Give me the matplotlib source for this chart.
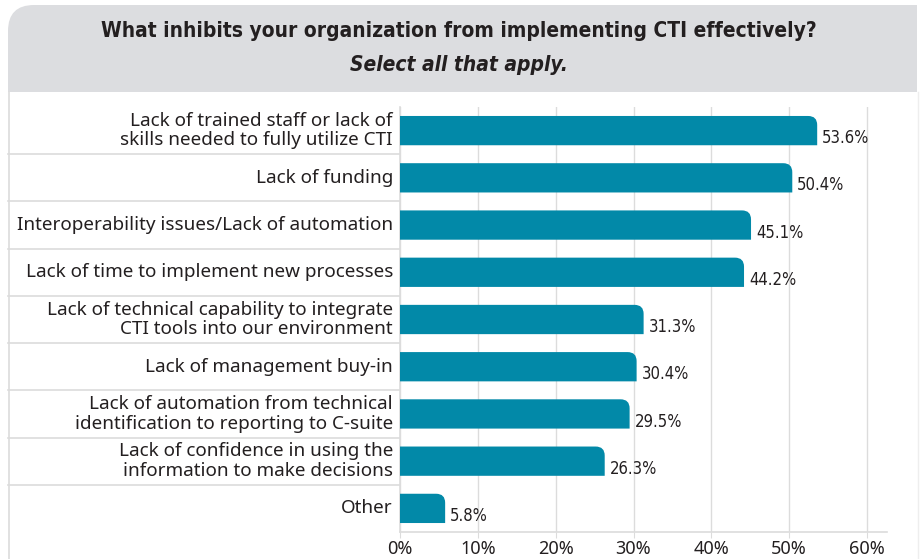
import matplotlib
matplotlib.use("Agg")
import matplotlib.pyplot as plt
from matplotlib.patches import PathPatch
from matplotlib.path import Path
from matplotlib.lines import Line2D
from matplotlib.transforms import Affine2D

# ---------------------------------------------------------------------------
# Data
# ---------------------------------------------------------------------------
categories = [
    "Lack of trained staff or lack of\nskills needed to fully utilize CTI",
    "Lack of funding",
    "Interoperability issues/Lack of automation",
    "Lack of time to implement new processes",
    "Lack of technical capability to integrate\nCTI tools into our environment",
    "Lack of management buy-in",
    "Lack of automation from technical\nidentification to reporting to C-suite",
    "Lack of confidence in using the\ninformation to make decisions",
    "Other",
]
values = [53.6, 50.4, 45.1, 44.2, 31.3, 30.4, 29.5, 26.3, 5.8]
x_ticks = [0, 10, 20, 30, 40, 50, 60]
tick_labels = ["0%", "10%", "20%", "30%", "40%", "50%", "60%"]

title = "What inhibits your organization from implementing CTI effectively?"
subtitle = "Select all that apply."

BAR_COLOR = "#0289a8"
GRID_COLOR = "#dcdcdc"
TEXT_COLOR = "#231f20"

W, H = 923, 559
fig = plt.figure(figsize=(W / 100, H / 100), dpi=100)

# pixel coords (origin top-left) -> figure fraction
to_fig = Affine2D().scale(1 / W, -1 / H).translate(0, 1) + fig.transFigure

# header box: top-left corner rounded only
x0, x1, y0, y1, r = 8, 917, 5, 92, 26
hverts = [(x0, y1), (x0, y0 + r), (x0, y0), (x0 + r, y0), (x1, y0),
          (x1, y1), (x0, y1)]
hcodes = [Path.MOVETO, Path.LINETO, Path.CURVE3, Path.CURVE3, Path.LINETO,
          Path.LINETO, Path.CLOSEPOLY]
fig.patches.append(PathPatch(Path(hverts, hcodes), transform=to_fig,
                             facecolor="#dcdde0", edgecolor="none",
                             zorder=0))
# panel border lines
fig.add_artist(Line2D([8.5, 8.5], [92, 559], transform=to_fig,
                      color=GRID_COLOR, lw=1.2))
fig.add_artist(Line2D([917.5, 917.5], [92, 559], transform=to_fig,
                      color="#eeeeee", lw=1.0))

fig.text(459 / W, 1 - 31 / H, title, ha="center", va="center",
         fontsize=15, fontweight="bold", color=TEXT_COLOR,
         family="DejaVu Sans", fontstretch="condensed")
fig.text(459 / W, 1 - 65 / H, subtitle, ha="center", va="center",
         fontsize=15, fontweight="bold", style="italic", color=TEXT_COLOR,
         family="DejaVu Sans", fontstretch="condensed")

# axes
ax_l, ax_r, ax_t, ax_b = 400, 887, 107, 532
ax = fig.add_axes([ax_l / W, 1 - ax_b / H, (ax_r - ax_l) / W,
                   (ax_b - ax_t) / H])
xmax = 60 * (ax_r - ax_l) / (867 - 400)
n = len(categories)
ax.set_xlim(0, xmax)
ax.set_ylim(n - 0.5, -0.5)

for s in ["top", "right"]:
    ax.spines[s].set_visible(False)
for s in ["left", "bottom"]:
    ax.spines[s].set_color(GRID_COLOR)
    ax.spines[s].set_linewidth(1.2)

ax.set_xticks(x_ticks)
ax.set_xticklabels(tick_labels)
ax.tick_params(axis="x", length=4, color=GRID_COLOR, labelsize=13,
               labelcolor=TEXT_COLOR, pad=2)
for lbl in ax.get_xticklabels():
    lbl.set_family("Noto Sans")
ax.set_yticks([])
ax.grid(axis="x", color=GRID_COLOR, lw=1.0)
ax.set_axisbelow(True)

# bars with rounded top-right corner
px_x = (ax_r - ax_l) / xmax       # pixels per percent
px_y = (ax_b - ax_t) / n          # pixels per row
r_px = 9
rx, ry = r_px / px_x, r_px / px_y
h = 0.62
for i, v in enumerate(values):
    top, bot = i - h / 2, i + h / 2
    verts = [(0, bot), (v, bot), (v, top + ry), (v, top), (v - rx, top),
             (0, top), (0, bot)]
    codes = [Path.MOVETO, Path.LINETO, Path.LINETO, Path.CURVE3,
             Path.CURVE3, Path.LINETO, Path.CLOSEPOLY]
    ax.add_patch(PathPatch(Path(verts, codes), facecolor=BAR_COLOR,
                           edgecolor="none", zorder=3))
    ax.annotate(f"{v:.1f}%", (v, i + 0.16), xytext=(3.5, 0),
                textcoords="offset points", ha="left", va="center",
                fontsize=12, color=TEXT_COLOR, family="DejaVu Sans",
                fontstretch="condensed")

# category labels and row separators
for i, cat in enumerate(categories):
    ax.text(-7 / px_x, i, cat, ha="right", va="center", fontsize=13.6,
            color=TEXT_COLOR, family="Noto Sans", linespacing=1.12)
for i in range(n - 1):
    y = i + 0.5
    ax.add_line(Line2D([-(ax_l - 8) / px_x, 0], [y, y], color=GRID_COLOR,
                       lw=1.2, clip_on=False))

fig.savefig("out.png", dpi=100)
